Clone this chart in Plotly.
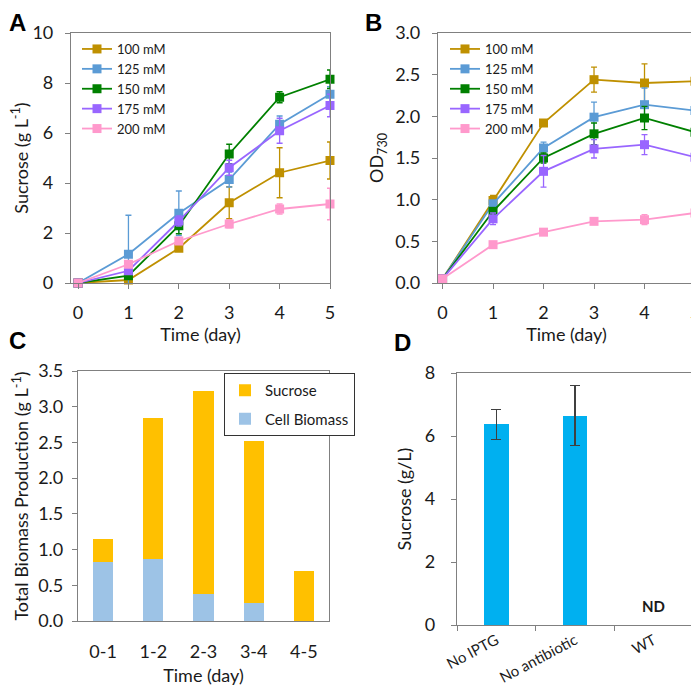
import plotly.graph_objects as go

days = [0, 1, 2, 3, 4, 5]
series_names = ["100 mM", "125 mM", "150 mM", "175 mM", "200 mM"]
colors = ["#BF9000", "#5B9BD5", "#008000", "#9966FF", "#FF99CC"]

# Panel A: sucrose (g/L)
sucrose_100 = [0, 0.12, 1.39, 3.21, 4.41, 4.90]
sucrose_125 = [0, 1.15, 2.79, 4.14, 6.35, 7.55]
sucrose_150 = [0, 0.29, 2.29, 5.16, 7.43, 8.15]
sucrose_175 = [0, 0.49, 2.48, 4.61, 6.09, 7.10]
sucrose_200 = [0, 0.75, 1.68, 2.36, 2.96, 3.16]
sucrose_err_100 = [0, 0.05, 0.12, 0.64, 1.0, 0.74]
sucrose_err_125 = [0, 1.56, 0.89, 0.3, 0.33, 0.3]
sucrose_err_150 = [0, 0.06, 0.32, 0.39, 0.22, 0.37]
sucrose_err_175 = [0, 0.05, 0.2, 0.3, 0.5, 0.45]
sucrose_err_200 = [0, 0.05, 0.1, 0.15, 0.2, 0.63]

# Panel B: OD730
od_100 = [0.05, 0.99, 1.92, 2.44, 2.40, 2.42]
od_125 = [0.05, 0.95, 1.62, 1.99, 2.14, 2.07]
od_150 = [0.05, 0.86, 1.50, 1.79, 1.98, 1.81]
od_175 = [0.05, 0.77, 1.34, 1.61, 1.66, 1.51]
od_200 = [0.05, 0.46, 0.61, 0.74, 0.76, 0.84]
od_err_100 = [0, 0.06, 0.02, 0.15, 0.23, 0.21]
od_err_125 = [0, 0.04, 0.07, 0.18, 0.2, 0.14]
od_err_150 = [0, 0.04, 0.06, 0.13, 0.14, 0.1]
od_err_175 = [0, 0.07, 0.19, 0.11, 0.12, 0.2]
od_err_200 = [0, 0.02, 0.03, 0.03, 0.06, 0.17]

# Panel C: total biomass production
intervals = ["0-1", "1-2", "2-3", "3-4", "4-5"]
cell_biomass = [0.82, 0.87, 0.38, 0.25, 0.0]
sucrose_part = [0.33, 1.97, 2.84, 2.27, 0.70]

# Panel D (WT: not detected)
conditions = ["No IPTG", "No antibiotic", "WT"]
sucrose_d = [6.37, 6.65, None]
sucrose_d_err = [0.47, 0.95, None]

FONT = "Lato, 'Open Sans', sans-serif"
TXT = "#1a1a1a"
AX = "#808080"

# page has an 8px body margin: work in screen pixels and convert
OFF = 8
W, H = 699 - OFF, 688 - OFF

fig = go.Figure()

sA = [sucrose_100, sucrose_125, sucrose_150, sucrose_175, sucrose_200]
eA = [sucrose_err_100, sucrose_err_125, sucrose_err_150, sucrose_err_175, sucrose_err_200]
sB = [od_100, od_125, od_150, od_175, od_200]
eB = [od_err_100, od_err_125, od_err_150, od_err_175, od_err_200]

for name, c, y, e in zip(series_names, colors, sA, eA):
    fig.add_trace(go.Scatter(
        x=days, y=y, name=name, mode="lines+markers",
        line=dict(color=c, width=1.8),
        marker=dict(symbol="square", size=9, color=c),
        error_y=dict(type="data", array=e, color=c, thickness=1.3, width=3),
        cliponaxis=False, xaxis="x", yaxis="y", legend="legend"))

for name, c, y, e in zip(series_names, colors, sB, eB):
    fig.add_trace(go.Scatter(
        x=days, y=y, name=name, mode="lines+markers",
        line=dict(color=c, width=1.8),
        marker=dict(symbol="square", size=9, color=c),
        error_y=dict(type="data", array=e, color=c, thickness=1.3, width=3),
        cliponaxis=False, xaxis="x2", yaxis="y2", legend="legend2"))

fig.add_trace(go.Bar(x=intervals, y=cell_biomass, name="Cell Biomass",
                     marker=dict(color="#9DC3E6", line=dict(width=0)), width=0.4,
                     xaxis="x3", yaxis="y3", legend="legend3", legendrank=2,
                     legendgroup="cb"))
fig.add_trace(go.Bar(x=intervals, y=sucrose_part, name="Sucrose",
                     marker=dict(color="#FFC000", line=dict(width=0)), width=0.4,
                     xaxis="x3", yaxis="y3", legend="legend3", legendrank=1,
                     legendgroup="su"))

fig.add_trace(go.Bar(x=conditions, y=sucrose_d, showlegend=False,
                     marker=dict(color="#00B0F0", line=dict(width=0)), width=0.31,
                     error_y=dict(type="data", array=sucrose_d_err, color="#404040",
                                  thickness=1.3, width=5),
                     xaxis="x4", yaxis="y4"))


def axis_style(**kw):
    d = dict(showline=True, linecolor=AX, linewidth=1.2, mirror=True,
             showgrid=False, zeroline=False, ticks="outside", ticklen=5,
             tickcolor=AX, automargin=False, ticklabeloverflow="allow",
             tickfont=dict(size=18, color=TXT, family=FONT),
             title_font=dict(size=18, color=TXT, family=FONT))
    d.update(kw)
    return d


def dom_x(a, b):
    return [(a - OFF) / W, (b - OFF) / W]


def dom_y(top, bot):
    return [1 - (bot - OFF) / H, 1 - (top - OFF) / H]


def px(x):
    return (x - OFF) / W


def py(y):
    return 1 - (y - OFF) / H


letter_font = dict(size=24, family="Liberation Sans", color="black")

fig.update_layout(
    width=W, height=H, margin=dict(l=0, r=0, t=0, b=0),
    plot_bgcolor="white", paper_bgcolor="white",
    font=dict(family=FONT, color=TXT),
    barmode="stack",
    xaxis=axis_style(domain=dom_x(71, 330), anchor="y", range=[-0.14, 5.0],
                     tickvals=days, title=dict(text="Time (day)", standoff=2),
                     ticklabelstandoff=8),
    yaxis=axis_style(domain=dom_y(33, 283), anchor="x", range=[0, 10], dtick=2,
                     title=dict(text="Sucrose (g L<sup>-1</sup>)", standoff=8),
                     ticklabelstandoff=8),
    xaxis2=axis_style(domain=dom_x(438, 695), anchor="y2", range=[-0.09, 5.0],
                      tickvals=days, title=dict(text="Time (day)", standoff=2),
                      ticklabelstandoff=8),
    yaxis2=axis_style(domain=dom_y(33, 283), anchor="x2", range=[0, 3], dtick=0.5,
                      tickformat=".1f",
                      title=dict(text="OD<sub>730</sub>", standoff=6),
                      ticklabelstandoff=8),
    xaxis3=axis_style(domain=dom_x(78, 329), anchor="y3", ticks="",
                      title=dict(text="Time (day)", standoff=8),
                      ticklabelstandoff=14),
    yaxis3=axis_style(domain=dom_y(371, 621), anchor="x3", range=[0, 3.5], dtick=0.5,
                      tickformat=".1f",
                      title=dict(text="Total Biomass Production (g L<sup>-1</sup>)", standoff=4),
                      ticklabelstandoff=5),
    xaxis4=axis_style(domain=dom_x(457, 693), anchor="y4", tickson="boundaries",
                      tickangle=-28, tickfont=dict(size=15, color=TXT, family=FONT)),
    yaxis4=axis_style(domain=dom_y(373, 625), anchor="x4", range=[0, 8], dtick=2,
                      title=dict(text="Sucrose (g/L)", standoff=8),
                      ticklabelstandoff=12),
    legend=dict(x=px(77), y=py(34), xanchor="left", yanchor="top",
                bgcolor="rgba(0,0,0,0)", font=dict(size=13, color=TXT, family=FONT),
                itemwidth=30, traceorder="normal"),
    legend2=dict(x=px(445), y=py(34), xanchor="left", yanchor="top",
                 bgcolor="rgba(0,0,0,0)", font=dict(size=13, color=TXT, family=FONT),
                 itemwidth=30, traceorder="normal"),
    legend3=dict(x=px(224), y=py(373), xanchor="left", yanchor="top",
                 bgcolor="white", bordercolor="#333333", borderwidth=1,
                 font=dict(size=15, color=TXT, family=FONT),
                 traceorder="grouped", tracegroupgap=6, itemwidth=30),
    annotations=[
        dict(text="<b>A</b>", x=0, y=1, xref="paper", yref="paper", xanchor="left",
             yanchor="top", showarrow=False, font=letter_font, borderpad=0),
        dict(text="<b>B</b>", x=px(364), y=1, xref="paper", yref="paper", xanchor="left",
             yanchor="top", showarrow=False, font=letter_font, borderpad=0),
        dict(text="<b>C</b>", x=0, y=py(326), xref="paper", yref="paper", xanchor="left",
             yanchor="top", showarrow=False, font=letter_font, borderpad=0),
        dict(text="<b>D</b>", x=px(393), y=py(328), xref="paper", yref="paper", xanchor="left",
             yanchor="top", showarrow=False, font=letter_font, borderpad=0),
        dict(text="<b>ND</b>", x="WT", y=0.6, xref="x4", yref="y4", showarrow=False,
             font=dict(size=15, family=FONT, color=TXT)),
    ],
)

fig.write_html("out.html")
